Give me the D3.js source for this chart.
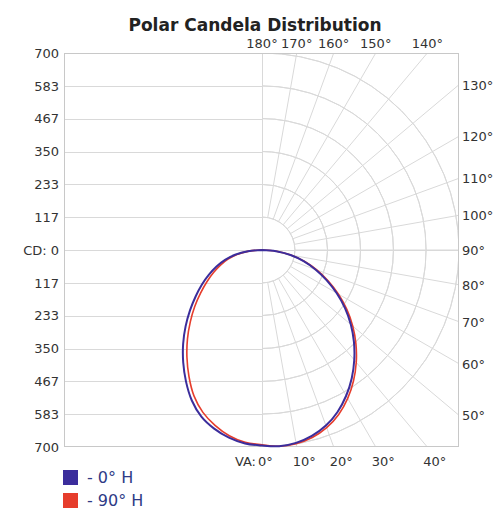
<!DOCTYPE html>
<html>
<head>
<meta charset="utf-8">
<script src="https://cdn.jsdelivr.net/npm/d3@7"></script>
<style>
  body { margin:0; background:#fff; }
  text { font-family: "DejaVu Sans", Verdana, sans-serif; }
</style>
</head>
<body>
<div id="chart"></div>
<script>
// vertical angles (deg from nadir) for the curves
var vAngles = [0,5,10,15,20,25,30,35,40,45,50,55,60,65,70,75,80,85,90];
// candela, 0° H plane (right half) and its opposite 180° H (left half)
var cd0   = [700,700,696,684,664,635,598,556,510,462,412,360,306,253,202,153,103,50,0];
var cd180 = [695,690,677,657,630,590,540,488,436,384,334,288,247,208,172,136,97,50,0];
// candela, 90° H plane (right half) and 270° H (left half)
var cd90  = [698,700,699,690,672,645,609,567,521,472,421,368,313,259,207,157,106,52,0];
var cd270 = [692,686,670,645,614,572,519,465,412,360,312,266,226,190,157,125,90,47,0];

var cdTicks = [0,117,233,350,467,583,700];
var gridAngles = [10,20,30,40,50,60,70,80,90,100,110,120,130,140,150,160,170];
var topLabels = [180,170,160,150,140];
var rightLabels = [130,120,110,100,90,80,70,60,50];
var bottomLabels = [0,10,20,30,40];
var legendNames = ["- 0° H","- 90° H"];
var colors = ["#3b2d9c","#e63d2c"];

var W = 501, H = 518;
var cx = 262, cy = 250, R = 197;

var svg = d3.select("#chart").append("svg")
    .attr("width", W).attr("height", H);

var r = d3.scaleLinear().domain([0,700]).range([0,R]);
var y = d3.scaleLinear().domain([-700,700]).range([cy + R, cy - R]);

var x0 = cx - R - 1, x1 = cx + R, y0 = cy - R, y1 = cy + R;

// polar -> screen, side +1 right, -1 left
function pt(a, v, side) {
    var t = a * Math.PI / 180;
    return [cx + side * r(v) * Math.sin(t), cy + r(v) * Math.cos(t)];
}

svg.append("text")
    .attr("x", 255).attr("y", 31)
    .attr("text-anchor", "middle")
    .style("font-size", "17px").style("font-weight", "bold")
    .attr("fill", "#222")
    .text("Polar Candela Distribution");

svg.append("clipPath").attr("id", "box")
  .append("rect").attr("x", x0).attr("y", y0).attr("width", x1 - x0).attr("height", y1 - y0);

var grid = svg.append("g").attr("clip-path", "url(#box)")
    .attr("stroke", "#d9d9d9").attr("fill", "none").attr("stroke-width", 1);

// horizontal lines on left half
var hv = cdTicks.slice(1).concat(cdTicks.slice(1).map(function(d){ return -d; }));
grid.selectAll(".h").data(hv).enter().append("line")
    .attr("x1", x0).attr("x2", cx)
    .attr("y1", function(d){ return Math.round(y(d)) + 0.5; })
    .attr("y2", function(d){ return Math.round(y(d)) + 0.5; });

// arcs on right half
var arc = d3.arc().startAngle(0).endAngle(Math.PI)
    .innerRadius(function(d){ return r(d); }).outerRadius(function(d){ return r(d); });
grid.selectAll(".arc").data(cdTicks.slice(1)).enter().append("path")
    .attr("transform", "translate(" + cx + "," + cy + ")")
    .attr("d", arc);

// radial lines
grid.selectAll(".rad").data(gridAngles).enter().append("line")
    .attr("x1", function(d){ return pt(d, cdTicks[1], 1)[0]; })
    .attr("y1", function(d){ return pt(d, cdTicks[1], 1)[1]; })
    .attr("x2", function(d){ return pt(d, 2000, 1)[0]; })
    .attr("y2", function(d){ return pt(d, 2000, 1)[1]; });

// center vertical + 90 line
grid.append("line").attr("x1", cx + 0.5).attr("x2", cx + 0.5).attr("y1", y0).attr("y2", y1);
grid.append("line").attr("x1", x0).attr("x2", x1).attr("y1", cy + 0.5).attr("y2", cy + 0.5);

svg.append("rect").attr("x", x0 + 0.5).attr("y", y0 + 0.5)
    .attr("width", x1 - x0 - 1).attr("height", y1 - y0 - 1)
    .attr("fill", "none").attr("stroke", "#c8c8c8");

// left axis
var yAxis = d3.axisLeft(y)
    .tickValues(hv.concat([0]))
    .tickSize(0).tickPadding(4)
    .tickFormat(function(d){ return d === 0 ? "CD: 0" : Math.abs(d); });
var ya = svg.append("g").attr("transform", "translate(" + (x0 - 1) + ",0)").call(yAxis);
ya.select(".domain").remove();
ya.selectAll("text").style("font-size", "13px").style("font-family", "DejaVu Sans").attr("fill", "#333");

var lbl = svg.append("g").style("font-size", "13px").attr("fill", "#333");

lbl.selectAll(".top").data(topLabels).enter().append("text")
    .attr("x", function(d){ return cx + (cy - y0) * Math.tan((180 - d) * Math.PI / 180); })
    .attr("y", y0 - 5)
    .attr("text-anchor", "middle")
    .text(function(d){ return d + "°"; });

lbl.selectAll(".right").data(rightLabels).enter().append("text")
    .attr("x", x1 + 3)
    .attr("y", function(d){ return cy - (x1 - cx) * Math.tan((d - 90) * Math.PI / 180) + 5; })
    .text(function(d){ return d + "°"; });

lbl.selectAll(".bot").data(bottomLabels).enter().append("text")
    .attr("x", function(d){ return cx - 4 + (y1 - cy) * Math.tan(d * Math.PI / 180); })
    .attr("y", y1 + 19)
    .text(function(d){ return d + "°"; });
lbl.append("text").attr("x", cx - 6).attr("y", y1 + 19)
    .attr("text-anchor", "end").text("VA:");

// curves
var line = d3.line().curve(d3.curveCatmullRom);
function curvePts(left, right) {
    var p = [];
    for (var i = vAngles.length - 1; i >= 0; i--) p.push(pt(vAngles[i], left[i], -1));
    for (var j = 1; j < vAngles.length; j++) p.push(pt(vAngles[j], right[j], 1));
    return p;
}
var series = [
    { pts: curvePts(cd270, cd90), color: colors[1], w: 1.6 },
    { pts: curvePts(cd180, cd0), color: colors[0], w: 2 }
];
svg.selectAll(".curve").data(series).enter().append("path")
    .attr("d", function(d){ return line(d.pts); })
    .attr("fill", "none")
    .attr("stroke", function(d){ return d.color; })
    .attr("stroke-width", function(d){ return d.w; });

// legend
var leg = svg.selectAll(".leg").data(legendNames).enter().append("g")
    .attr("transform", function(d, i){ return "translate(63," + (470 + i * 23) + ")"; });
leg.append("rect").attr("width", 15).attr("height", 15)
    .attr("fill", function(d, i){ return colors[i]; });
leg.append("text").attr("x", 24).attr("y", 13)
    .style("font-size", "16px").attr("fill", "#2e3a86")
    .text(function(d){ return d; });
</script>
</body>
</html>
